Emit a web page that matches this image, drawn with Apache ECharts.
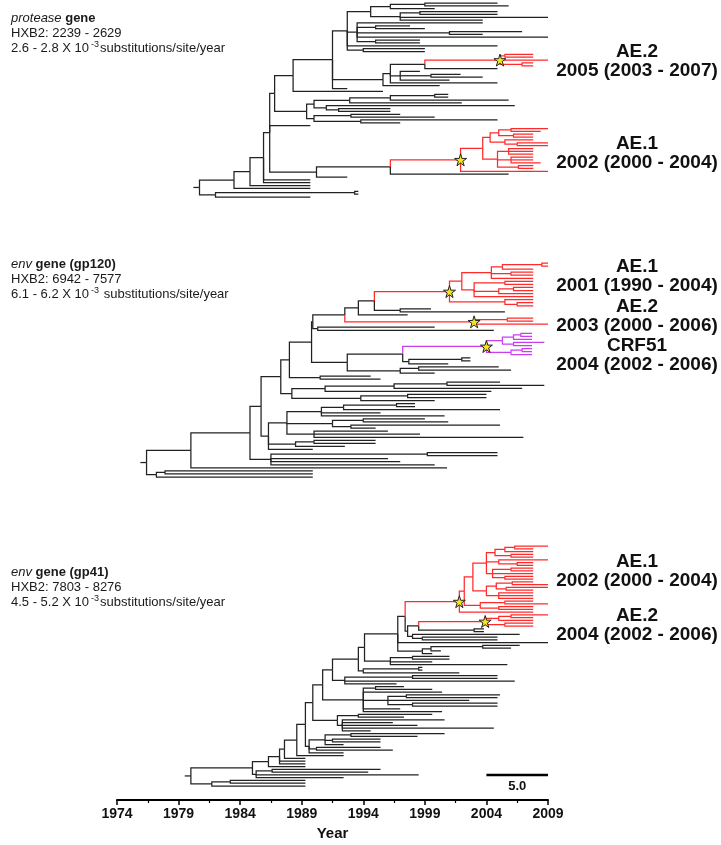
<!DOCTYPE html>
<html>
<head>
<meta charset="utf-8">
<script src="https://cdn.jsdelivr.net/npm/echarts@6/dist/echarts.min.js"></script>
<style>
  html, body { margin: 0; padding: 0; background: #fff; }
  #chart { width: 721px; height: 845px; }
</style>
</head>
<body>
<div id="chart"></div>
<script>
// x axis runs in years since 1974 so ticks can start at 0 with interval 5
const BASE = 1974;
const tickYears = [1974, 1979, 1984, 1989, 1994, 1999, 2004, 2009];

// trees: [nodeYear, child, child, ...], a leaf is its tip year
// a leading 'R' / 'M' marks a red / magenta clade with a star on its node
const proteaseTree =
[1980.7,
  [1983.5,
    [1984.8,
      [1985.9,
        [1986.4,
          [1986.8,
            [1988.3,
              [1991.5,
                [1992.7,
                  [1994.6,
                    [1996.2, [1999.0, 2004.9, 2005.8], 1999.8],
                    [1997.0, [1998.6, 2004.9, 2004.9], 2009.0, 2003.7]
                  ],
                  [1993.5, 2003.7, [1995.0, 1997.8, 1999.0], [2001.0, 2006.9, 2003.7], 2009.0, [1995.0, 1998.6, 1998.6]],
                  2004.9,
                  [1994.0, 1999.0, 1999.0]
                ],
                [1995.6,
                  [1996.2,
                    [1999.0, ['R', 2005.1, [2005.5, 2007.8, 2007.8], 2009.0, [2006.9, 2007.8, 2007.8]], 2004.9],
                    [1997.0, 1998.6, [1999.5, 2001.9, 2003.7], 2001.0],
                    2004.9
                  ],
                  2000.2
                ],
                1992.7
              ],
              1995.6
            ],
            [1989.4,
              [1990.0,
                [1992.9, [1996.2, [1999.8, 2000.9, 2000.9], 2005.8], 2002.0],
                [1991.0, 2006.3, [1992.0, 1996.2, 1996.2]]
              ],
              [1990.0, [1993.0, 1997.0, 1999.8], [1993.8, 2004.9, 1997.0]]
            ]
          ],
          1989.7,
          [1990.2,
            [1996.2,
              ['R', 2001.9,
                [2003.7,
                  [2004.3,
                    [2005.0, [2006.0, 2009.0, 2008.4], [2006.2, 2007.8, 2007.8]],
                    [2005.5, 2007.8, [2006.5, 2009.0, 2009.0]]
                  ],
                  [2004.9, [2005.8, 2007.8, 2007.8, 2007.8], [2006.0, 2007.8, 2007.8, 2008.4], [2006.6, 2007.8, 2007.8]]
                ],
                2009.0
              ],
              2005.8
            ],
            1992.7
          ]
        ],
        1989.7, 1989.7
      ],
      1989.7
    ],
    1989.7
  ],
  [1982.0, [1993.3, 1993.6, 1993.6], 1989.7]
];

const gp120Tree =
[1976.4,
  [1980.0,
    [1984.8,
      [1985.7,
        [1987.3,
          [1988.0,
            [1989.8,
              [1989.9,
                [1992.5,
                  [1993.6,
                    [1994.9,
                      ['R', 2001.0,
                        [2002.0,
                          [2004.4, [2005.3, [2008.5, 2009.0, 2009.0], 2007.8], [2006.0, 2007.8, 2007.8], 2007.8],
                          [2003.0, [2005.5, 2007.8, 2007.8], [2005.0, [2006.2, 2007.8, 2007.8], 2007.8], 2007.8]
                        ],
                        [2005.5, 2007.8, [2006.5, 2007.8, 2007.8]]
                      ],
                      [1997.0, 1999.5, 2005.5]
                    ],
                    1997.6
                  ],
                  ['R', 2003.0, [2005.7, 2007.8, 2007.8], 2009.0]
                ],
                [1990.3, 1999.8, 2004.6]
              ],
              [1992.7,
                [1997.2,
                  ['M', 2004.0,
                    [2005.3, [2006.2, [2006.8, 2007.7, 2007.7], 2007.7], [2006.2, 2008.7, 2007.7]],
                    [2006.0, [2006.9, 2007.7, 2007.7], 2007.7]
                  ],
                  [1997.7, [2002.0, 2002.7, 2002.7], 2000.9]
                ],
                [1997.0, [1998.5, 2005.0, 2006.0], 1999.8]
              ]
            ],
            [1990.5, 1994.6, 1995.4]
          ],
          [1988.2,
            [1990.9, [1996.5, [2000.8, 2005.1, 2008.7], 2006.9], 2004.4],
            [1993.8, [1997.6, 2004.0, 2004.0], 1999.8]
          ]
        ],
        [1986.3,
          [1987.8,
            [1990.6, [1992.4, [1996.7, 1998.2, 1998.2], 2005.1], 1995.4, 2000.6],
            [1991.5, [1994.0, 1999.0, 2000.9], [1993.0, 2005.1, 1995.0]],
            [1990.0, 1996.0, 1998.6, 2007.0]
          ],
          [1988.5, [1990.0, 1995.0, 1995.0], 1992.5],
          1989.9
        ]
      ],
      [1986.5, [1999.2, 2004.9, 2004.9], 1996.0, 1997.0, 1999.8]
    ],
    2000.8
  ],
  [1977.2, [1977.9, 1989.9, 1989.9], 1989.9]
];

const gp41AE1 =
['R', 2001.8,
  [2002.2,
    [2002.9,
      [2004.0,
        [2004.7, [2005.5, [2006.3, 2009.0, 2007.8], 2007.8], [2006.0, 2007.8, 2007.8]],
        [2005.0, 2009.0, [2006.5, 2007.8, 2007.8]],
        [2004.5, [2006.0, 2007.8, 2007.8], 2007.8, [2005.5, 2007.8, 2007.8]]
      ],
      [2004.0, [2004.8, [2006.1, 2007.8, 2009.0], [2005.6, 2009.0, 2007.8]], [2005.0, 2007.8, 2007.8, 2007.8]]
    ],
    [2003.5, [2005.5, 2007.8, 2009.0], [2005.0, 2007.8, 2007.8]]
  ],
  2007.8
];
const gp41AE2 = ['R', 2003.9, [2005.0, [2006.0, 2009.0, 2007.8], 2007.8], [2005.5, 2007.8, 2007.8]];

const gp41Tree =
[1980.0,
  [1985.0,
    [1986.3,
      [1987.2,
        [1987.6,
          [1988.6,
            [1989.3,
              [1989.9,
                [1990.7,
                  [1991.5,
                    [1993.6,
                      [1994.1,
                        [1996.8,
                          [1997.4,
                            gp41AE1,
                            [1997.6,
                              [1998.5, gp41AE2, [2003.0, 2003.8, 2003.8]],
                              [1998.0, 2006.7, [1998.8, 2004.9, 2004.9]]
                            ]
                          ],
                          2009.0,
                          [1998.8, [1999.5, [2003.7, 2006.7, 2006.0], 2000.3], 1999.6]
                        ],
                        [1996.2, [1998.0, 2001.0, 2001.0], 1999.6, 2005.7]
                      ],
                      [1994.0, [1998.5, 1998.8, 1998.8], 2001.8]
                    ],
                    [1992.5, [1998.0, 2004.9, 2004.9], 2006.3, 1996.7]
                  ],
                  [1994.0, [1995.0, 1997.3, 1999.6], 2000.4, [1996.0, [1997.5, 2005.1, 2004.9], 2002.6, [1998.0, 2004.9, 2004.9]], 1997.0, 2000.4]
                ],
                [1991.9, [1993.6, 1999.6, 1997.3], [1992.3, 2000.6, 1996.4, 1998.4, 2004.6, 1994.6]]
              ],
              [1989.6, [1990.9, [1993.0, 2000.6, 1998.4], [1991.5, 1995.4, 1995.4], 1992.4], [1990.2, 1995.4, 1996.4], 1992.4]
            ],
            1992.4
          ],
          1989.3
        ],
        1989.3, 1989.3
      ],
      1989.3
    ],
    [1985.3, [1986.6, 1995.4, 1994.4], 1998.5, 1992.4]
  ],
  [1981.7, [1983.2, 1989.3, 1989.3], 1989.3]
];

// scale bar: 5.0 years, drawn in the gp41 panel
const scaleBar = { from: 2004, length: 5.0, row: 83 };

const geneNotes = [
  { y: 18,  gene: 'protease', rest: 'gene',         hxb2: '2239 - 2629', rate: '2.6 - 2.8', gap: '' },
  { y: 264, gene: 'env',      rest: 'gene (gp120)', hxb2: '6942 - 7577', rate: '6.1 - 6.2', gap: ' ' },
  { y: 572, gene: 'env',      rest: 'gene (gp41)',  hxb2: '7803 - 8276', rate: '4.5 - 5.2', gap: '' }
];

const cladeLabels = [
  { name: 'AE.2',  date: '2005 (2003 - 2007)', y: 52 },
  { name: 'AE.1',  date: '2002 (2000 - 2004)', y: 144 },
  { name: 'AE.1',  date: '2001 (1990 - 2004)', y: 267 },
  { name: 'AE.2',  date: '2003 (2000 - 2006)', y: 307 },
  { name: 'CRF51', date: '2004 (2002 - 2006)', y: 346 },
  { name: 'AE.1',  date: '2002 (2000 - 2004)', y: 562 },
  { name: 'AE.2',  date: '2004 (2002 - 2006)', y: 616 }
];

const COLORS = ['#222222', '#ff2b2b', '#cc3cf0'];
const CLADE = { R: 1, M: 2 };
const FONT = '"Liberation Sans", Arial, sans-serif';
const STAR = 'path://M50,0 L61,35 L98,35 L68,57 L79,91 L50,70 L21,91 L32,57 L2,35 L39,35 Z';

// rectangular layout: tips get consecutive rows, a node sits midway between its outer children
function layoutTree(tree) {
  const segs = [], stars = [];
  let row = 0;
  function walk(node, color) {
    if (typeof node === 'number') return { t: node, y: row++, c: color };
    let i = 0, star = false;
    if (typeof node[0] === 'string') { color = CLADE[node[0]]; star = true; i = 1; }
    const t = node[i];
    const kids = node.slice(i + 1).map(k => walk(k, color));
    const y = (kids[0].y + kids[kids.length - 1].y) / 2;
    kids.forEach(k => segs.push([t - BASE, y, k.t - BASE, k.y, k.c]));
    if (star) stars.push([t - BASE, y]);
    return { t, y, c: color };
  }
  const root = walk(tree, 0);
  segs.push([root.t - BASE - 0.5, root.y, root.t - BASE, root.y, 0]);
  segs.sort((a, b) => a[4] - b[4]);
  return { segs, stars, n: row };
}

const panels = [
  { tree: proteaseTree, top: 3,   bottom: 197 },
  { tree: gp120Tree,    top: 263, bottom: 477 },
  { tree: gp41Tree,     top: 546, bottom: 786 }
].map(p => Object.assign(p, layoutTree(p.tree)));

function renderBranch(params, api) {
  const a = api.coord([api.value(0), api.value(1)]);
  const b = api.coord([api.value(2), api.value(3)]);
  return {
    type: 'polyline',
    shape: { points: [a, [a[0], b[1]], b] },
    style: { stroke: COLORS[api.value(4)], lineWidth: 1.25, fill: null }
  };
}

function renderScaleBar(params, api) {
  const a = api.coord([api.value(0), api.value(2)]);
  const b = api.coord([api.value(1), api.value(2)]);
  return {
    type: 'group',
    children: [
      { type: 'line', shape: { x1: a[0], y1: a[1], x2: b[0], y2: b[1] }, style: { stroke: '#000', lineWidth: 2.5 } },
      { type: 'text', x: (a[0] + b[0]) / 2, y: a[1] + 11,
        style: { text: scaleBar.length.toFixed(1), font: 'bold 13px ' + FONT, fill: '#111', align: 'center', verticalAlign: 'middle' } }
    ]
  };
}

const graphic = [];
geneNotes.forEach(g => {
  const base = { fontSize: 13, fontFamily: FONT, fill: '#1a1a1a' };
  graphic.push({ type: 'text', x: 11, y: g.y, style: Object.assign({
    text: '{i|' + g.gene + '} {b|' + g.rest + '}', verticalAlign: 'middle',
    rich: { i: { fontStyle: 'italic', fontSize: 13, fontFamily: FONT }, b: { fontWeight: 'bold', fontSize: 13, fontFamily: FONT } }
  }, base) });
  graphic.push({ type: 'text', x: 11, y: g.y + 15, style: Object.assign({ text: 'HXB2: ' + g.hxb2, verticalAlign: 'middle' }, base) });
  graphic.push({ type: 'text', x: 11, y: g.y + 30, style: Object.assign({
    text: g.rate + ' X 10{s|-3}' + g.gap + 'substitutions/site/year', verticalAlign: 'middle',
    rich: { s: { fontSize: 9, fontFamily: FONT, verticalAlign: 'top', lineHeight: 15, padding: [0, 1, 0, 2] } }
  }, base) });
});
cladeLabels.forEach(c => {
  [c.name, c.date].forEach((txt, k) => {
    graphic.push({ type: 'text', x: 637, y: c.y + k * 19,
      style: { text: txt, font: 'bold 19px ' + FONT, fill: '#111', align: 'center', verticalAlign: 'middle' } });
  });
});

const chart = echarts.init(document.getElementById('chart'));
chart.setOption({
  animation: false,
  backgroundColor: '#fff',
  grid: panels.map(p => ({ left: 117, width: 431, top: p.top, height: p.bottom - p.top })),
  xAxis: panels.map((p, i) => ({
    gridIndex: i, type: 'value', min: 0, max: 35, interval: 5,
    show: i === 2, offset: 14,
    name: 'Year', nameLocation: 'middle', nameGap: 26,
    nameTextStyle: { fontFamily: FONT, fontWeight: 'bold', fontSize: 15, color: '#111' },
    axisLine: { onZero: false, lineStyle: { color: '#000', width: 2 } },
    axisTick: { length: 5, lineStyle: { color: '#000', width: 1.5 } },
    minorTick: { show: true, splitNumber: 2, length: 3, lineStyle: { color: '#000', width: 1.2 } },
    splitLine: { show: false },
    axisLabel: { margin: 7, fontFamily: FONT, fontWeight: 'bold', fontSize: 14, color: '#111',
      formatter: v => String(tickYears[Math.round(v / 5)]) }
  })),
  yAxis: panels.map((p, i) => ({
    gridIndex: i, type: 'value', inverse: true, min: 0, max: p.n - 1, show: false
  })),
  series: panels.map((p, i) => ({
    type: 'custom', xAxisIndex: i, yAxisIndex: i,
    renderItem: renderBranch, data: p.segs, silent: true
  })).concat(panels.map((p, i) => ({
    type: 'scatter', xAxisIndex: i, yAxisIndex: i, data: p.stars,
    symbol: STAR, symbolSize: 12, z: 5,
    itemStyle: { color: '#f2e41e', borderColor: '#222', borderWidth: 1, opacity: 1 }
  }))).concat([{
    type: 'custom', xAxisIndex: 2, yAxisIndex: 2,
    renderItem: renderScaleBar,
    data: [[scaleBar.from - BASE, scaleBar.from + scaleBar.length - BASE, scaleBar.row]]
  }]),
  graphic: graphic
});
</script>
</body>
</html>
